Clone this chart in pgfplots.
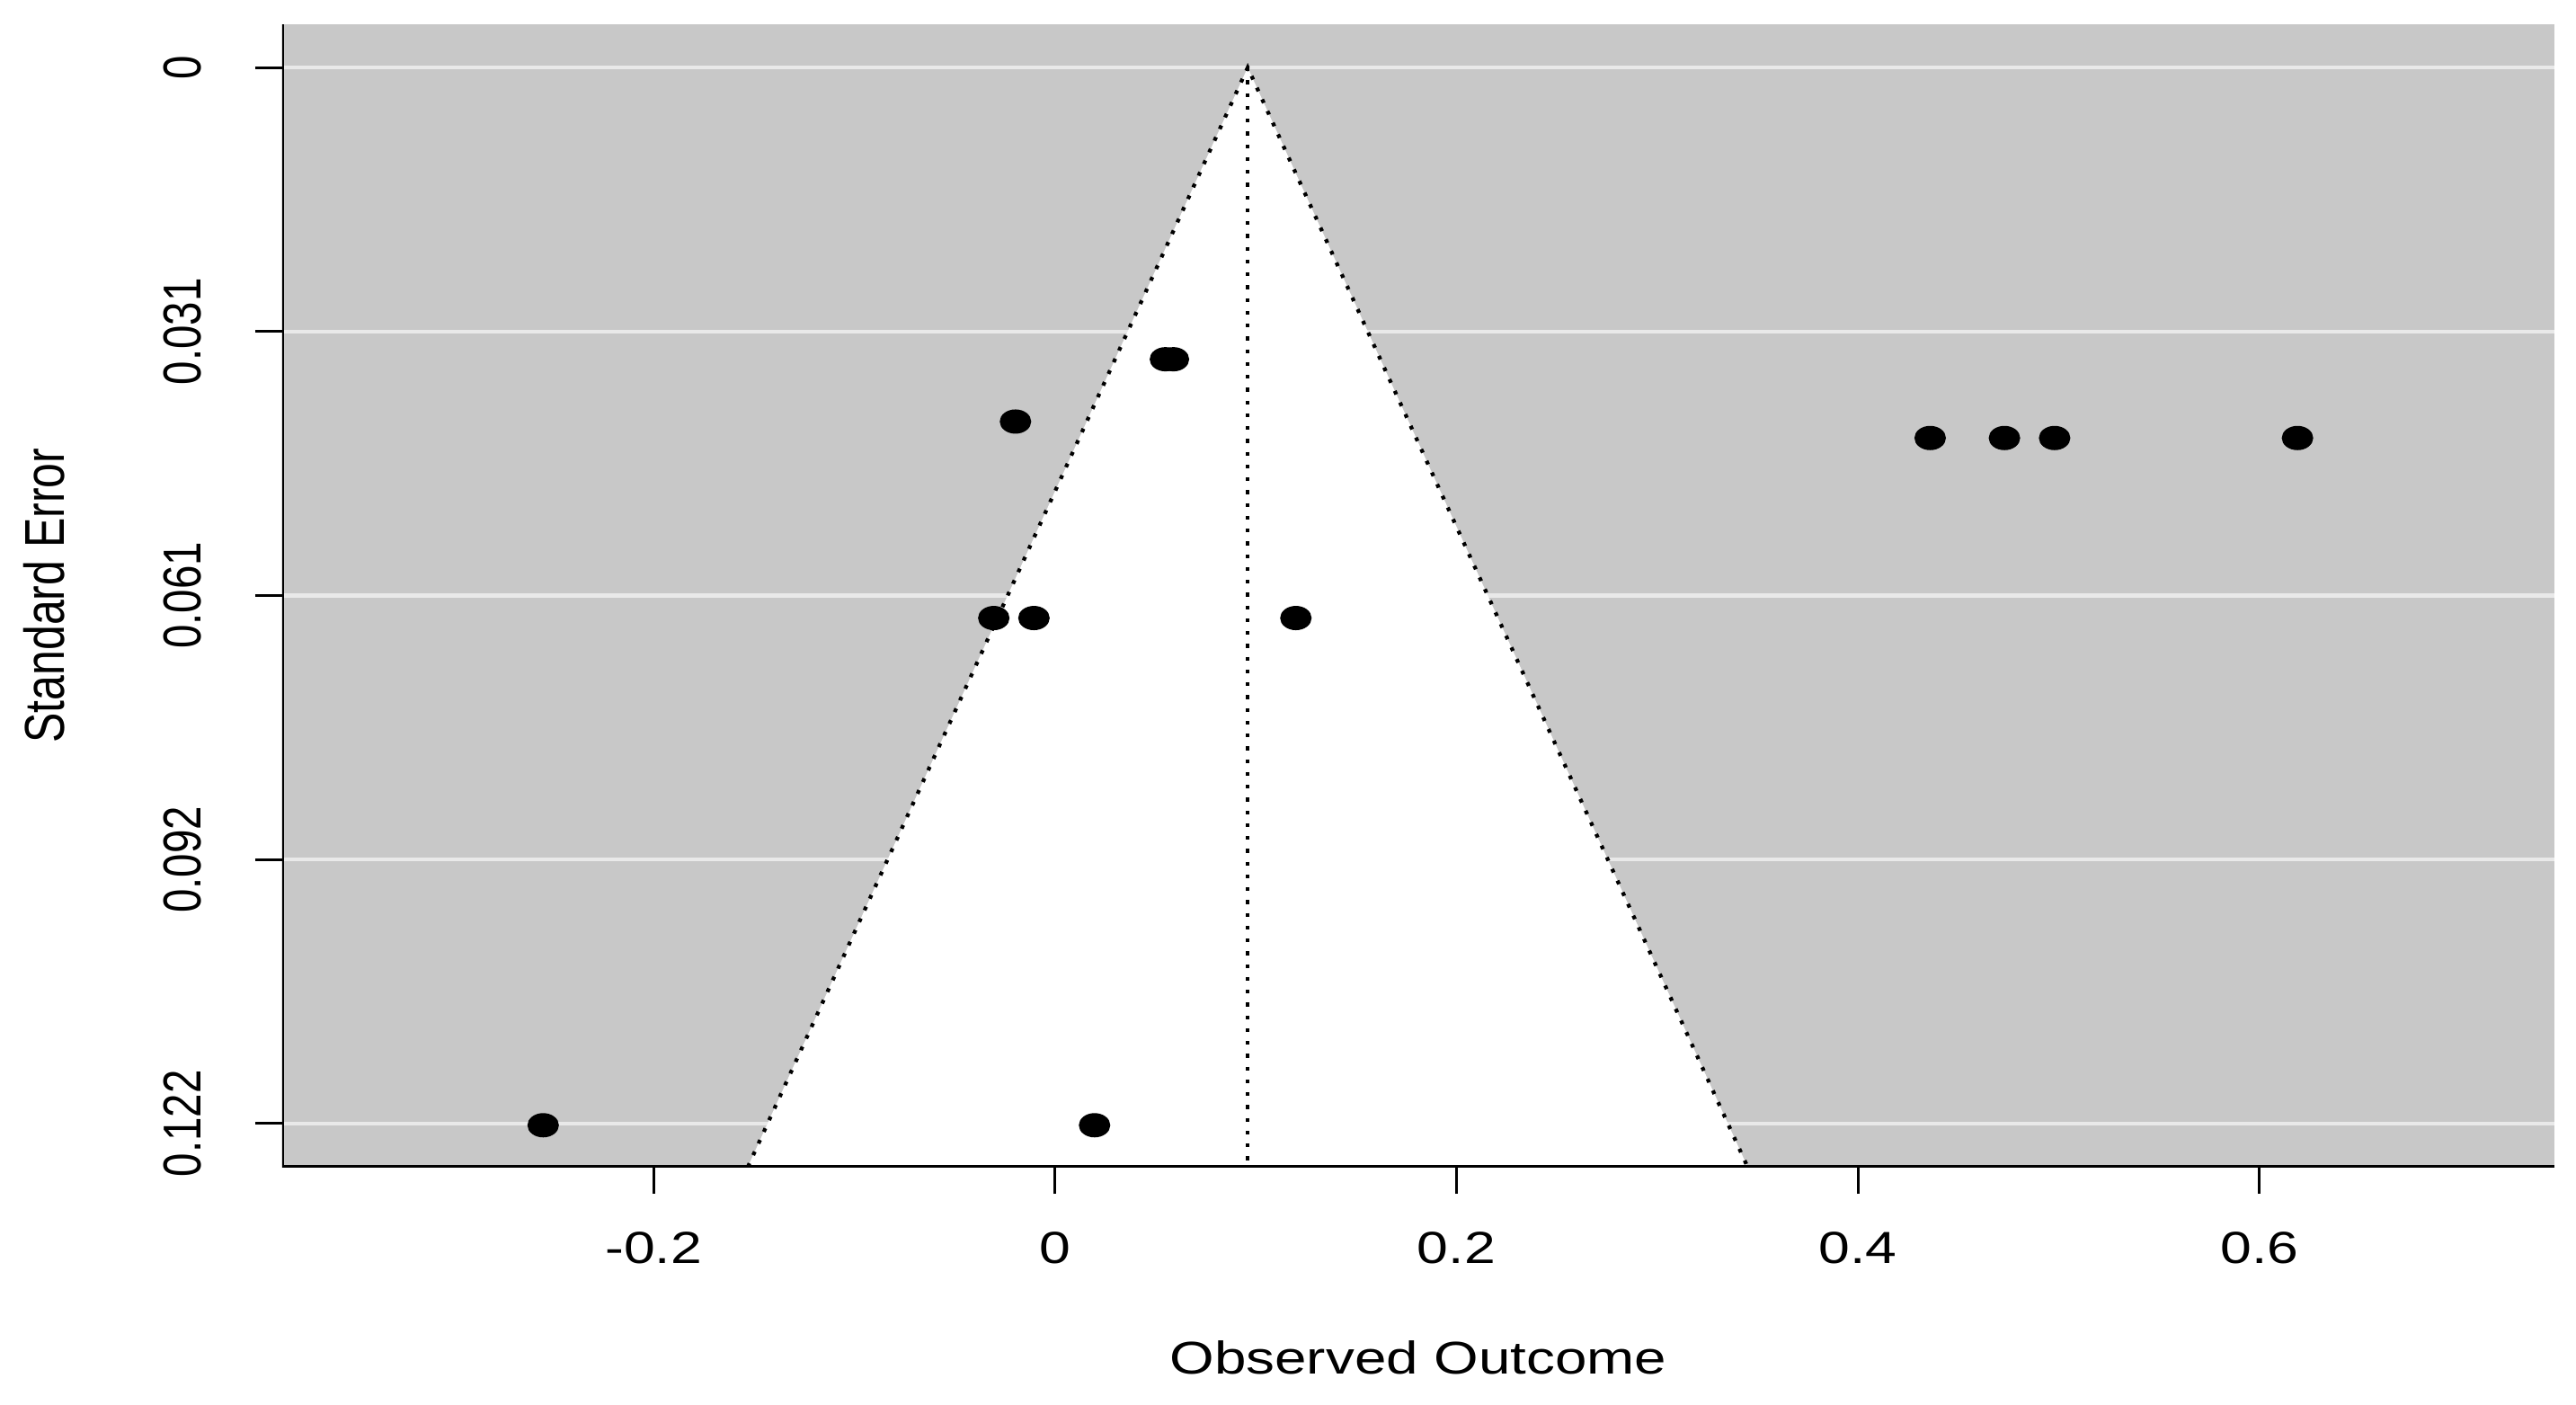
\documentclass[border=0pt]{standalone}
\usepackage{fontspec}
\setmainfont{Liberation Sans}[FakeStretch=1.25]
\newfontfamily\rotfont{Liberation Sans}
\usepackage{graphicx}
\usepackage{pgfplots}
\pgfplotsset{compat=1.18}
\definecolor{bggray}{RGB}{200,200,200}
\definecolor{gridw}{RGB}{233,233,233}
\newcommand{\rl}[1]{\scalebox{1}[1.25]{#1}}
\begin{document}
\begin{tikzpicture}
\begin{axis}[
  scale only axis, width=505.6pt, height=254.2pt,
  xmin=-0.385, xmax=0.747, ymin=-0.005, ymax=0.127, y dir=reverse,
  axis background/.style={fill=bggray},
  axis line style={draw=none},
  xtick={-0.2,0,0.2,0.4,0.6}, xticklabels={-0.2,0,0.2,0.4,0.6},
  ytick={0,0.0305,0.061,0.0915,0.122},
  yticklabels={\rl{0},\rl{0.031},\rl{0.061},\rl{0.092},\rl{0.122}},
  xtick pos=left, ytick pos=left,
  tick align=outside, major tick length=6pt,
  tick style={black, line width=0.6pt},
  ymajorgrids, major grid style={gridw, line width=0.9pt},
  xticklabel style={font=\fontsize{10}{12}\selectfont, inner sep=0pt, anchor=north},
  xticklabel shift=8.4pt,
  yticklabel style={font=\rotfont\fontsize{9.5}{11}\selectfont, rotate=90, anchor=south, inner sep=0pt},
  yticklabel shift=11.8pt,
  clip=true,
]
\addplot[fill=white, draw=black, dotted, line width=0.85pt] coordinates {(-0.153,0.127) (0.096,0) (0.345,0.127)};
\addplot[black, dotted, line width=0.85pt] coordinates {(0.096,0) (0.096,0.127)};
\addplot[only marks, mark=*, mark size=2.5pt, mark options={xscale=1.32, fill=black, draw=black}] coordinates {
  (0.055,0.0337) (0.059,0.0337)
  (-0.0197,0.0409)
  (0.436,0.0428) (0.473,0.0428) (0.498,0.0428) (0.619,0.0428)
  (-0.0305,0.0636) (-0.0105,0.0636) (0.120,0.0636)
  (-0.255,0.1222) (0.0197,0.1222)
};
\coordinate (bl) at (axis description cs:0,0);
\coordinate (tr) at (axis description cs:1,1);
\coordinate (xl) at (axis description cs:0.5,0);
\coordinate (yl) at (axis description cs:0,0.5);
\draw[line width=1pt, black] (axis description cs:0,1) -- (axis description cs:0,0) -- (axis description cs:1,0);
\end{axis}
\node[inner sep=0pt, font=\fontsize{10.2}{12}\selectfont] at ([yshift=-42.4pt]xl) {Observed Outcome};
\node[inner sep=0pt, rotate=90, font=\rotfont\fontsize{10}{12}\selectfont] at ([xshift=-52.9pt]yl) {\rl{Standard Error}};
\pgfresetboundingbox
\path ([shift={(-62.8pt,-53pt)}]bl) rectangle ([shift={(4.8pt,5.4pt)}]tr);
\end{tikzpicture}
\end{document}
